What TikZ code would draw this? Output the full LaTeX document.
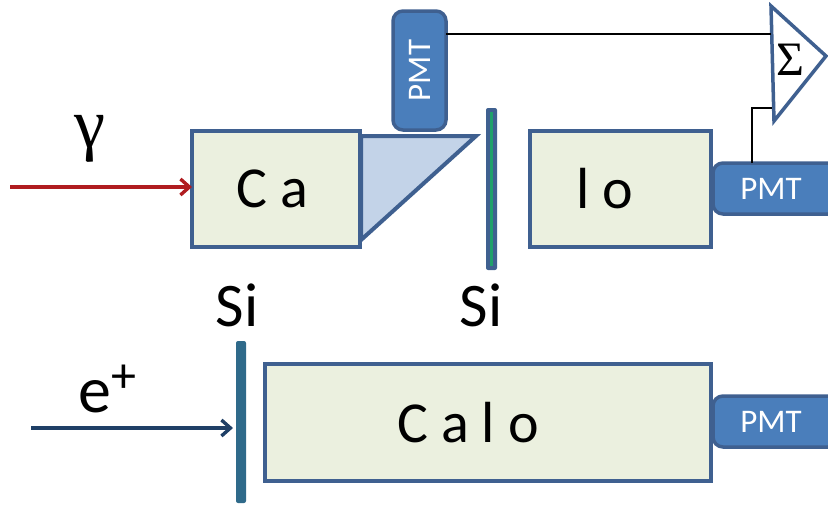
\documentclass[tikz,border=0pt]{standalone}
\usepackage{fontspec}
\setmainfont{Carlito}
\newfontfamily\serifgr{Liberation Serif}
\usetikzlibrary{arrows.meta}
\definecolor{edgeblue}{HTML}{3F6090}
\definecolor{boxfill}{HTML}{EBF0DF}
\definecolor{pmtfill}{HTML}{4A7EBB}
\definecolor{wedgefill}{HTML}{C3D3E8}
\definecolor{arrowred}{HTML}{B01C20}
\definecolor{arrownavy}{HTML}{1F3F66}
\definecolor{siedge}{HTML}{2F6A8A}
\definecolor{sigreen}{HTML}{1FA06A}
\tikzset{
  x=1pt,y=-1pt,
  calobox/.style={draw=edgeblue,line width=4pt,fill=boxfill,inner sep=0pt,outer sep=0pt,anchor=north west,font=\fontsize{58}{58}\selectfont,text=black},
  pmtbox/.style={draw=edgeblue,line width=3.5pt,fill=pmtfill,rounded corners=10pt,inner sep=0pt,outer sep=0pt,anchor=north west,text=white,font=\fontsize{33}{33}\selectfont},
  label/.style={inner sep=0pt,text=black,font=\fontsize{62}{62}\selectfont},
  wire/.style={draw=black,line width=2.8pt},
  ray/.style={line width=3.4pt,-{Straight Barb[length=9pt,width=16pt,line width=3.4pt]}},
}
\begin{document}
\begin{tikzpicture}
\useasboundingbox (0,0) rectangle (828,504);
% Si bars
\fill[edgeblue,rounded corners=2pt] (486,108) rectangle (497,270);
\fill[sigreen] (489.5,112) rectangle (493,266);
\node[fill=siedge,rounded corners=2pt,minimum width=10pt,minimum height=162pt,inner sep=0pt,outer sep=0pt] (si2) at (241,422) {};
% Wedge
\coordinate (wa) at (361,136);
\coordinate (wb) at (476,136);
\coordinate (wc) at (361,240);
\draw[edgeblue,line width=4pt,fill=wedgefill,line join=miter] (wa) -- (wb) -- (wc) -- cycle;
% Boxes
\node[calobox,minimum width=168pt,minimum height=116pt] (ca) at (192,131) {\hspace*{-8pt}C a};
\node[calobox,minimum width=181pt,minimum height=116pt] (lo) at (530,131) {\hspace*{-32pt}l o};
\node[calobox,minimum width=446pt,minimum height=117pt] (calo) at (265,364) {\hspace*{-40pt}C a l o};
% PMTs
\node[pmtbox,minimum width=53pt,minimum height=119pt] (pmttop) at (393,11) {\rotatebox{90}{PMT}};
\node[pmtbox,minimum width=125pt,minimum height=51pt] (pmtmid) at (713,163) {\hspace*{-9pt}PMT};
\node[pmtbox,minimum width=125pt,minimum height=51pt] (pmtbot) at (713,396) {\hspace*{-9pt}PMT};
% Summing triangle
\coordinate (sa) at (771,6);
\coordinate (sb) at (826,56);
\coordinate (sc) at (774,121);
\coordinate (in1) at (771,34);
\coordinate (in2) at (772,108);
\coordinate (bend) at (752,108);
\draw[edgeblue,line width=3.5pt,fill=white] (sa) -- (sb) -- (sc) -- cycle;
\node[inner sep=0pt,font=\serifgr\fontsize{48}{48}\selectfont] (sigma) at (790,60) {Σ};
% Wires
\draw[wire] (pmttop.east |- in1) -- (in1);
\draw[wire] (pmtmid.north -| bend) -- (bend) -- (in2);
% Rays
\coordinate (gstart) at (10,187);
\coordinate (estart) at (31,428);
\draw[ray,arrowred] (gstart) -- (ca.west |- gstart);
\draw[ray,arrownavy,shorten >=3pt] (estart) -- (si2.west |- estart);
% Labels
\node[label,font=\serifgr\fontsize{70}{70}\selectfont] (gamma) at (90,139) {γ};
\node[label] (si1l) at (481,305) {Si};
\node[label] (si2l) at (237,305) {Si};
\node[label,anchor=base west,font=\fontsize{66}{66}\selectfont] (ep) at (78,412) {e\raisebox{20pt}{\fontsize{50}{50}\selectfont +}};
\end{tikzpicture}
\end{document}
